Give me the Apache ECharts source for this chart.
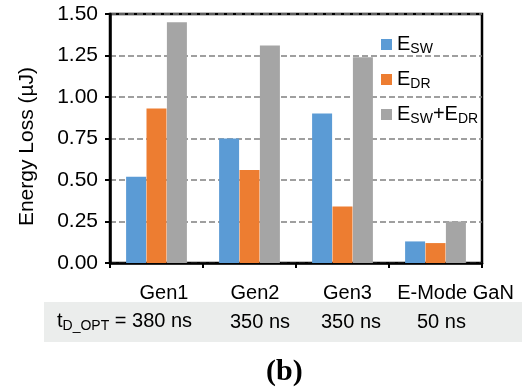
<!DOCTYPE html>
<html>
<head>
<meta charset="utf-8">
<script src="https://cdn.jsdelivr.net/npm/echarts@6/dist/echarts.min.js"></script>
<style>html,body{margin:0;padding:0;background:#fff}#c{width:522px;height:390px}</style>
</head>
<body>
<div id="c"></div>
<script>
var categories = ['Gen1', 'Gen2', 'Gen3', 'E-Mode GaN'];
var seriesNames = ['E_SW', 'E_DR', 'E_SW+E_DR'];
var eSW = [0.52, 0.75, 0.90, 0.13];
var eDR = [0.93, 0.56, 0.34, 0.12];
var eSum = [1.45, 1.31, 1.24, 0.25];
var yTicks = [0, 0.25, 0.5, 0.75, 1.0, 1.25, 1.5];
var tdLabel = 't_D_OPT';
var tdValues = ['380 ns', '350 ns', '350 ns', '50 ns'];
var subLabel = '(b)';

var colors = ['#5B9BD5', '#ED7D31', '#A5A5A5'];
var labelShift = [15, 11, 10, 40];
var tdX = [57, 230, 321, 417];
var FONT = 'Liberation Sans, Arial, sans-serif';

function richName(n) {
  return n.split('+').map(function (p) {
    var parts = p.split('_');
    return '{m|' + parts[0] + '}{s|' + parts.slice(1).join('_') + '}';
  }).join('{m|+}');
}

var rich = {};
categories.forEach(function (c, i) {
  rich['c' + i] = { fontSize: 20, fontFamily: FONT, color: '#000', padding: [0, 0, 0, labelShift[i]] };
});

var chart = echarts.init(document.getElementById('c'), null, { renderer: 'canvas' });
var vals = [eSW, eDR, eSum];
chart.setOption({
  animation: false,
  grid: { left: 110, right: 40, top: 14, bottom: 127, show: true, borderColor: '#000', borderWidth: 2.5, backgroundColor: 'transparent' },
  legend: {
    orient: 'vertical', left: 376, top: 28, itemWidth: 11, itemHeight: 11, itemGap: 12,
    data: seriesNames,
    icon: 'rect',
    formatter: function (n) { return richName(n); },
    textStyle: {
      rich: {
        m: { fontSize: 20, fontFamily: FONT, color: '#000', lineHeight: 23 },
        s: { fontSize: 14, fontFamily: FONT, color: '#000', verticalAlign: 'bottom', lineHeight: 14, padding: [9, 0, 0, 0] }
      }
    }
  },
  xAxis: {
    type: 'category', data: categories,
    axisLine: { lineStyle: { color: '#000', width: 2.5 } },
    axisTick: { show: true, length: 5, lineStyle: { color: '#000', width: 2 } },
    axisLabel: {
      margin: 20, interval: 0,
      formatter: function (v) { var i = categories.indexOf(v); return '{c' + i + '|' + v + '}'; },
      rich: rich
    }
  },
  yAxis: {
    type: 'value', min: 0, max: 1.5, interval: 0.25,
    name: 'Energy Loss (µJ)', nameLocation: 'middle', nameGap: 72,
    nameTextStyle: { fontSize: 21, fontFamily: FONT, color: '#000', padding: [0, 16, 0, 0] },
    axisLine: { show: true, lineStyle: { color: '#000', width: 2.5 } },
    axisTick: { show: true, length: 5, lineStyle: { color: '#000', width: 2 } },
    axisLabel: { fontSize: 21, fontFamily: FONT, color: '#000', margin: 12, formatter: function (v) { return v.toFixed(2); } },
    splitLine: { lineStyle: { color: '#808080', width: 1.5, type: [6, 3] } }
  },
  series: seriesNames.map(function (n, i) {
    return {
      name: n, type: 'bar', data: vals[i], barWidth: 20, barGap: '2%',
      itemStyle: { color: colors[i] }
    };
  }),
  graphic: [
    { type: 'rect', left: 44, top: 302, shape: { width: 478, height: 40 }, style: { fill: '#EBEDEC' }, z: 0 },
    {
      type: 'text', left: tdX[0], top: 310,
      style: {
        text: '{t|' + tdLabel.split('_')[0] + '}{s|' + tdLabel.split('_').slice(1).join('_') + '}{t| = ' + tdValues[0] + '}',
        rich: {
          t: { fontSize: 20, fontFamily: FONT, fill: '#000', lineHeight: 23 },
          s: { fontSize: 14, fontFamily: FONT, fill: '#000', verticalAlign: 'bottom', lineHeight: 14, padding: [9, 0, 0, 0] }
        }
      }, z: 10
    }
  ].concat(tdValues.slice(1).map(function (t, i) {
    return { type: 'text', left: tdX[i + 1], top: 312, style: { text: t, font: '20px ' + FONT, fill: '#000' }, z: 10 };
  })).concat([
    { type: 'text', left: 266, top: 357, style: { text: subLabel, font: 'bold 30px Liberation Serif, Times New Roman, serif', fill: '#000' }, z: 10 }
  ])
});
</script>
</body>
</html>
